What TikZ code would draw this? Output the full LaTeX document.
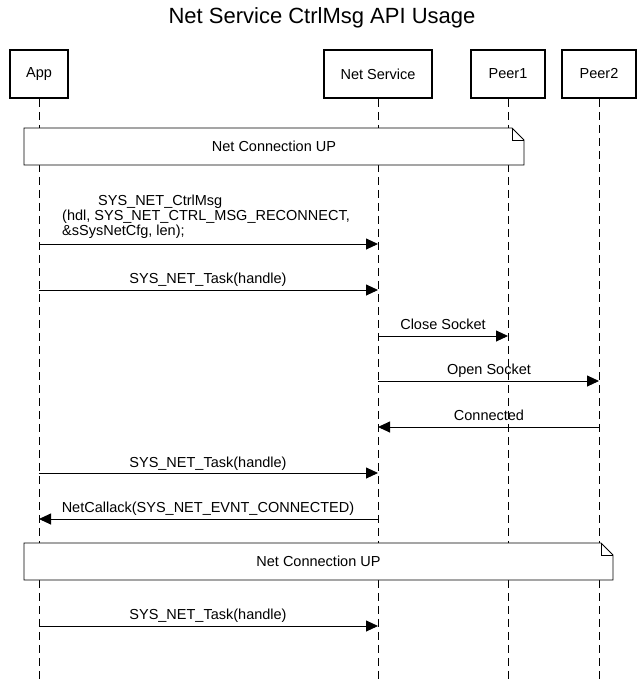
\documentclass[tikz,border=0pt]{standalone}
\usepackage{fontspec}
\setmainfont{Liberation Sans}
\usetikzlibrary{arrows.meta}
\begin{document}
\begin{tikzpicture}[x=1pt,y=-1pt,
  head/.style={draw, line width=1.8pt, minimum height=48pt, inner sep=0pt, font=\fontsize{14.5}{16}\selectfont},
  life/.style={line width=0.9pt, dash pattern=on 8pt off 5pt},
  msg/.style={line width=0.9pt, -{Triangle[length=12pt,width=11pt]}},
  lbl/.style={font=\fontsize{14.5}{16}\selectfont, inner sep=0pt, anchor=base},
  notebox/.style={draw, fill=white, line width=0.9pt}]
\path[use as bounding box] (0,0) rectangle (644,683);
\node[font=\fontsize{22}{24}\selectfont] (title) at (322,18) {Net Service CtrlMsg API Usage};
\node[head, minimum width=58pt] (app) at (39,74) {App};
\node[head, minimum width=108pt] (ns) at (378,74) {Net Service};
\node[head, minimum width=74pt] (p1) at (508,74) {Peer1};
\node[head, minimum width=74pt] (p2) at (599,74) {Peer2};
\foreach \n/\x in {app/39,ns/378,p1/508,p2/599}{
  \coordinate (\n-end) at (\x,683);
  \draw[life] (\n.south) -- (\n-end);
}
% note 1
\draw[notebox] (24,128) -- (512,128) -- (524,140) -- (524,165) -- (24,165) -- cycle;
\draw[line width=0.9pt] (512,128) -- (512,140) -- (524,140);
\node[lbl] (n1) at (274,151) {Net Connection UP};
% message coordinates
\foreach \n/\x in {app/39,ns/378,p1/508,p2/599}{
  \foreach \k/\y in {1/244,2/290,3/336,4/381,5/427,6/473,7/519,8/626}{
    \coordinate (\n\k) at (\x,\y);
  }
}
\draw[msg] (app1) -- (ns1);
\node[lbl, anchor=base west] (m1a) at (98,205) {SYS\_NET\_CtrlMsg};
\node[lbl, anchor=base west] (m1b) at (62,220) {(hdl, SYS\_NET\_CTRL\_MSG\_RECONNECT,};
\node[lbl, anchor=base west] (m1c) at (62,235) {\&sSysNetCfg, len);};
\draw[msg] (app2) -- (ns2);
\node[lbl] (m2) at (208,283) {SYS\_NET\_Task(handle)};
\draw[msg] (ns3) -- (p13);
\node[lbl] (m3) at (443,329) {Close Socket};
\draw[msg] (ns4) -- (p24);
\node[lbl] (m4) at (489,374) {Open Socket};
\draw[msg] (p25) -- (ns5);
\node[lbl] (m5) at (489,420) {Connected};
\draw[msg] (app6) -- (ns6);
\node[lbl] (m6) at (208,467) {SYS\_NET\_Task(handle)};
\draw[msg] (ns7) -- (app7);
\node[lbl] (m7) at (208,512) {NetCallack(SYS\_NET\_EVNT\_CONNECTED)};
% note 2
\draw[notebox] (24,543) -- (601,543) -- (613,555) -- (613,580) -- (24,580) -- cycle;
\draw[line width=0.9pt] (601,543) -- (601,555) -- (613,555);
\node[lbl] (n2) at (318.5,566) {Net Connection UP};
\draw[msg] (app8) -- (ns8);
\node[lbl] (m8) at (208,619) {SYS\_NET\_Task(handle)};
\end{tikzpicture}
\end{document}
